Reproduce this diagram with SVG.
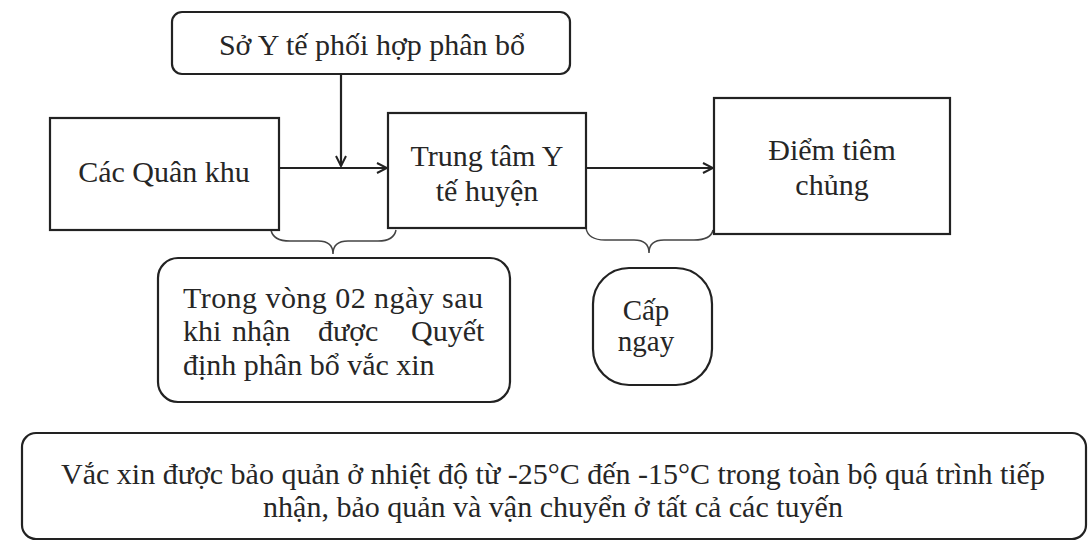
<svg xmlns="http://www.w3.org/2000/svg" width="1092" height="541" viewBox="0 0 1092 541">
<style>
.box{fill:#fff;stroke:#222;stroke-width:2.2}
.t{font-family:"Liberation Serif","Times New Roman",serif;fill:#262626;font-size:30px}
.c{text-anchor:middle}
.ln{fill:none;stroke:#222;stroke-width:2.2}
.br{fill:none;stroke:#444;stroke-width:1.5}
</style>
<defs>
<marker id="ah" viewBox="0 0 12 12" refX="11" refY="6" markerWidth="12" markerHeight="12" markerUnits="userSpaceOnUse" orient="auto">
<path d="M1 1 L11 6 L1 11" fill="none" stroke="#222" stroke-width="2"/>
</marker>
</defs>
<rect width="1092" height="541" fill="#fff"/>
<g id="connectors">
<line class="ln" x1="341" y1="74" x2="341" y2="166" marker-end="url(#ah)"/>
<line class="ln" x1="279" y1="168" x2="387" y2="168" marker-end="url(#ah)"/>
<line class="ln" x1="586" y1="168" x2="713" y2="168" marker-end="url(#ah)"/>
<path class="br" d="M271 230 Q273 241 290 241 L318 241 Q333 241 333 254 Q333 241 348 241 L378 241 Q394 241 396 230"/>
<path class="br" d="M586 228 Q588 240 605 240 L634 240 Q649 240 649 253 Q649 240 664 240 L694 240 Q711 240 713 230"/>
</g>
<g id="so-y-te">
<rect class="box" x="172" y="12" width="398" height="62" rx="10"/>
<text class="t c" x="372" y="55">Sở Y tế phối hợp phân bổ</text>
</g>
<g id="quan-khu">
<rect class="box" x="50" y="118" width="229" height="112"/>
<text class="t c" x="164" y="182">Các Quân khu</text>
</g>
<g id="trung-tam">
<rect class="box" x="388" y="113" width="198" height="115"/>
<text class="t c" x="487" y="166">Trung tâm Y</text>
<text class="t c" x="487" y="201">tế huyện</text>
</g>
<g id="diem-tiem">
<rect class="box" x="714" y="98" width="236" height="136"/>
<text class="t c" x="832" y="160">Điểm tiêm</text>
<text class="t c" x="832" y="195">chủng</text>
</g>
<g id="trong-vong">
<rect class="box" x="158" y="258" width="352" height="144" rx="20"/>
<text class="t" x="183" y="308" textLength="300" lengthAdjust="spacing">Trong vòng 02 ngày sau</text>
<text class="t" y="341"><tspan x="183">khi</tspan><tspan x="232">nhận</tspan><tspan x="318">được</tspan><tspan x="411">Quyết</tspan></text>
<text class="t" x="183" y="375">định phân bổ vắc xin</text>
</g>
<g id="cap-ngay">
<rect class="box" x="593" y="268" width="119" height="117" rx="36"/>
<text class="t c" x="646" y="320" style="font-size:29px">Cấp</text>
<text class="t c" x="646" y="351" style="font-size:29px">ngay</text>
</g>
<g id="bao-quan">
<rect class="box" x="22" y="433" width="1064" height="106" rx="14"/>
<text class="t c" x="553" y="484">Vắc xin được bảo quản ở nhiệt độ từ -25°C đến -15°C trong toàn bộ quá trình tiếp</text>
<text class="t c" x="553" y="517">nhận, bảo quản và vận chuyển ở tất cả các tuyến</text>
</g>
</svg>
